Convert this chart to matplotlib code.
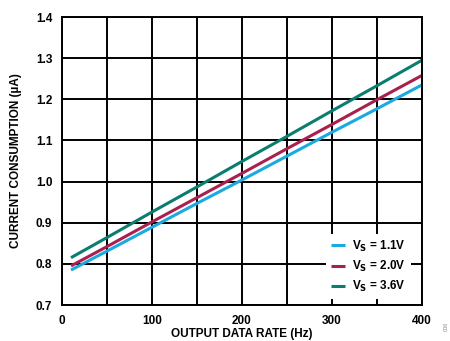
import numpy as np
import matplotlib.pyplot as plt

plt.rcParams['font.family'] = ['Liberation Sans', 'DejaVu Sans']
plt.rcParams['font.weight'] = 'bold'

rate_hz = [10, 50, 100, 150, 200, 250, 300, 350, 400]
i_11v = [0.785, 0.831, 0.889, 0.947, 1.004, 1.062, 1.120, 1.177, 1.235]
i_20v = [0.795, 0.842, 0.902, 0.961, 1.020, 1.080, 1.139, 1.199, 1.258]
i_36v = [0.815, 0.864, 0.926, 0.987, 1.049, 1.110, 1.172, 1.233, 1.295]
labels = ['V$_\\mathbf{S}$ = 1.1V', 'V$_\\mathbf{S}$ = 2.0V', 'V$_\\mathbf{S}$ = 3.6V']
colors = ['#1ba9e1', '#a8204e', '#0a7d6f']

fig = plt.figure(figsize=(4.5, 3.41), dpi=100)
ax = fig.add_axes([62 / 450, 36 / 341, 360 / 450, 288 / 341])

for ys, lab, c in zip([i_11v, i_20v, i_36v], labels, colors):
    ax.plot(rate_hz, ys, color=c, lw=2.2, label=lab, solid_capstyle='butt')

ax.set_xlim(0, 400)
ax.set_ylim(0.7, 1.4)
ax.set_xticks(np.arange(0, 401, 100))
ax.set_xticks(np.arange(0, 401, 50), minor=True)
ax.set_yticks(np.arange(0.7, 1.41, 0.1))
ax.set_yticklabels(['%.1f' % v for v in np.arange(0.7, 1.41, 0.1)])
ax.grid(True, which='both', color='black', lw=1.4)
ax.set_axisbelow(True)
for s in ax.spines.values():
    s.set_color('black')
    s.set_linewidth(1.4)
ax.tick_params(which='both', length=0, labelsize=8.5, pad=7)
for t in ax.get_xticklabels() + ax.get_yticklabels():
    t.set_fontweight('bold')

ax.set_xlabel('OUTPUT DATA RATE (Hz)', fontsize=8.5, fontweight='bold', labelpad=1)
ax.set_ylabel('CURRENT CONSUMPTION (µA)', fontsize=8.5, fontweight='bold', labelpad=10)

leg = ax.legend(loc='lower right', bbox_to_anchor=(0.985, 0.0), frameon=True,
                handlelength=1.2, handletextpad=0.6,
                labelspacing=0.45, borderpad=0.4, prop={'weight': 'bold', 'size': 8.5})
leg.get_frame().set_edgecolor('none')
leg.get_frame().set_facecolor('white')
leg.get_frame().set_alpha(1)
leg.get_frame().set_boxstyle('square', pad=0)

fig.text(0.992, 0.03, '006', rotation=90, fontsize=4, color='#888888',
         ha='center', va='bottom', fontweight='normal')

fig.savefig('out.png', dpi=100)
